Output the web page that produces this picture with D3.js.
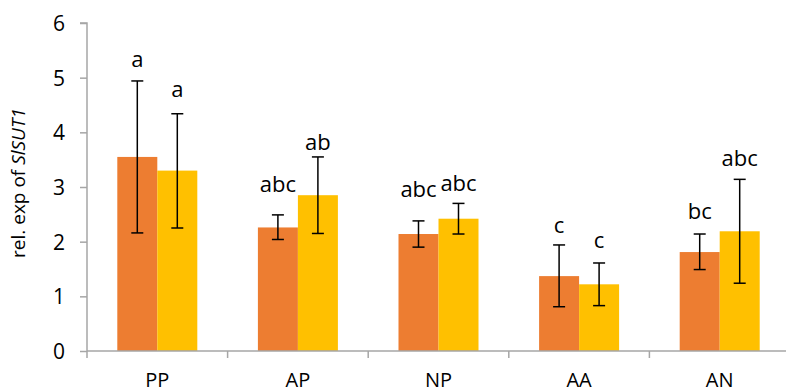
<!DOCTYPE html>
<html>
<head>
<meta charset="utf-8">
<script src="https://cdn.jsdelivr.net/npm/d3@7"></script>
<style>
  body { margin: 0; background: #fff; }
  svg text { font-family: "Open Sans", sans-serif; fill: #000; }
</style>
</head>
<body>
<script>
//-----------------Data----------------

const groups = ["PP", "AP", "NP", "AA", "AN"];
const series = ["s1", "s2"];
const means1 = [3.55, 2.26, 2.14, 1.37, 1.81];
const means2 = [3.30, 2.85, 2.42, 1.22, 2.19];
const errHigh1 = [4.94, 2.49, 2.38, 1.94, 2.14];
const errLow1 = [2.16, 2.04, 1.90, 0.81, 1.49];
const errHigh2 = [4.34, 3.55, 2.70, 1.61, 3.14];
const errLow2 = [2.25, 2.15, 2.14, 0.83, 1.24];
const letters1 = ["a", "abc", "abc", "c", "bc"];
const letters2 = ["a", "ab", "abc", "c", "abc"];
// value at which each letter's baseline sits
const letterAt1 = [5.20, 2.91, 2.82, 2.15, 2.41];
const letterAt2 = [4.65, 3.68, 2.93, 1.89, 3.38];
const yTicks = [0, 1, 2, 3, 4, 5, 6];

//-----------------Svg----------------

const width = 786;
const height = 390;
const plotLeft = 87;
const plotTop = 23;
const plotBottom = 351;
const orange = "#ED7D31";
const yellow = "#FFC000";
const axisColor = "#A6A6A6";

const svg = d3.select("body").append("svg").attr("width", width).attr("height", height);

const xScale = d3.scaleBand().domain(groups).range([plotLeft, plotLeft + 5 * 140.6]);
const inner = d3.scaleBand().domain(series).range([0, 80]);
const yScale = d3.scaleLinear().domain([0, 6]).range([plotBottom, plotTop]);

const rows = groups.map((g, i) => [
  { g: g, s: "s1", v: means1[i], hi: errHigh1[i], lo: errLow1[i], t: letters1[i], ty: letterAt1[i], c: orange },
  { g: g, s: "s2", v: means2[i], hi: errHigh2[i], lo: errLow2[i], t: letters2[i], ty: letterAt2[i], c: yellow }
]).flat();

const barX = (d) => xScale(d.g) + (xScale.bandwidth() - 80) / 2 + inner(d.s);

//-------------Bars----------------

svg.selectAll("rect.bar")
  .data(rows)
  .enter()
  .append("rect")
  .attr("class", "bar")
  .attr("x", barX)
  .attr("y", (d) => yScale(d.v))
  .attr("width", inner.bandwidth())
  .attr("height", (d) => plotBottom - yScale(d.v))
  .style("fill", (d) => d.c);

//-------------Axes----------------

const yAxis = d3.axisLeft(yScale).tickValues(yTicks).tickFormat(d3.format("d")).tickSize(7).tickPadding(15);
const yG = svg.append("g").attr("transform", "translate(" + plotLeft + ",0)").call(yAxis);
yG.select(".domain").attr("stroke", axisColor).attr("stroke-width", 1.5).attr("d", "M-7," + yScale(6) + "H0V" + plotBottom);
yG.selectAll(".tick line").attr("stroke", axisColor).attr("stroke-width", 1.5);
yG.selectAll(".tick text").style("font-size", "21px").attr("dy", "0.36em");

const xG = svg.append("g").attr("transform", "translate(0," + plotBottom + ")");
xG.append("line").attr("x1", plotLeft).attr("x2", width).attr("stroke", axisColor).attr("stroke-width", 1.5);
xG.selectAll("line.sep")
  .data(groups)
  .enter()
  .append("line")
  .attr("class", "sep")
  .attr("x1", (d) => xScale(d) + xScale.bandwidth())
  .attr("x2", (d) => xScale(d) + xScale.bandwidth())
  .attr("y1", 0)
  .attr("y2", 7)
  .attr("stroke", axisColor)
  .attr("stroke-width", 1.5);
xG.append("line").attr("x1", plotLeft).attr("x2", plotLeft).attr("y1", 0).attr("y2", 7).attr("stroke", axisColor).attr("stroke-width", 1.5);
xG.selectAll("text.cat")
  .data(groups)
  .enter()
  .append("text")
  .attr("class", "cat")
  .attr("x", (d) => xScale(d) + xScale.bandwidth() / 2)
  .attr("y", 36)
  .style("text-anchor", "middle")
  .style("font-size", "20px")
  .text((d) => d);

//-------------Error bars----------------

const err = svg.append("g").attr("stroke", "#000").attr("stroke-width", 1.5);
const cx = (d) => barX(d) + inner.bandwidth() / 2;
err.selectAll("line.v").data(rows).enter().append("line")
  .attr("x1", cx).attr("x2", cx)
  .attr("y1", (d) => yScale(d.hi)).attr("y2", (d) => yScale(d.lo));
err.selectAll("line.hi").data(rows).enter().append("line")
  .attr("x1", (d) => cx(d) - 6).attr("x2", (d) => cx(d) + 6)
  .attr("y1", (d) => yScale(d.hi)).attr("y2", (d) => yScale(d.hi));
err.selectAll("line.lo").data(rows).enter().append("line")
  .attr("x1", (d) => cx(d) - 6).attr("x2", (d) => cx(d) + 6)
  .attr("y1", (d) => yScale(d.lo)).attr("y2", (d) => yScale(d.lo));

//-------------Letters----------------

svg.selectAll("text.letter")
  .data(rows)
  .enter()
  .append("text")
  .attr("class", "letter")
  .attr("x", cx)
  .attr("y", (d) => yScale(d.ty))
  .style("text-anchor", "middle")
  .style("font-size", "22px")
  .text((d) => d.t);

//-------------Y label----------------

const yLabel = svg.append("text")
  .attr("transform", "translate(25,183) rotate(-90)")
  .style("text-anchor", "middle")
  .style("font-size", "19px");
yLabel.append("tspan").text("rel. exp of ");
yLabel.append("tspan").style("font-style", "italic").text("SlSUT1");
</script>
</body>
</html>
